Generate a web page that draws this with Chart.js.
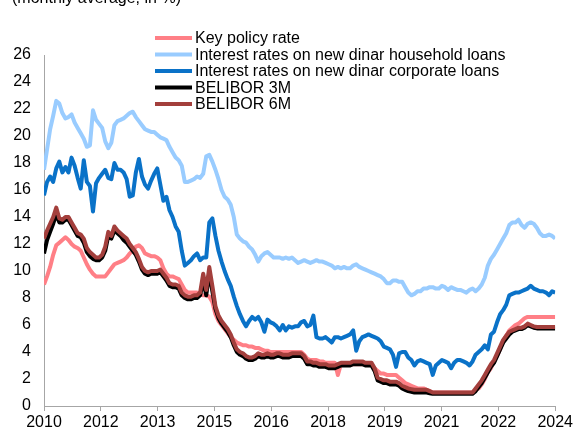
<!DOCTYPE html>
<html>
<head>
<meta charset="utf-8">
<script src="https://cdn.jsdelivr.net/npm/chart.js@4"></script>
<style>
  html, body { margin: 0; padding: 0; background: #fff; }
  #wrap { width: 575px; height: 430px; }
</style>
</head>
<body>
<div id="wrap"><canvas id="ratechart" width="575" height="430"></canvas></div>
<script>
// monthly averages, Jan 2010 - Dec 2023, in %
const subtitle = '(monthly average, in %)';
const tickLabels = ['2010', '2012', '2013', '2015', '2016', '2018', '2019', '2021', '2022', '2024'];
const yTicks = [0, 2, 4, 6, 8, 10, 12, 14, 16, 18, 20, 22, 24, 26];

const seriesNames = [
  'Key policy rate',
  'Interest rates on new dinar household loans',
  'Interest rates on new dinar corporate loans',
  'BELIBOR 3M',
  'BELIBOR 6M'
];
const seriesColors = ['#ff7f86', '#99ccff', '#0a72c8', '#000000', '#a33f3c'];

const keyRate = [
  9.0, 9.6, 10.3, 11.2, 11.9, 12.1, 12.3, 12.5, 12.3, 12.0, 11.8, 11.7,
  11.5, 11.0, 10.5, 10.1, 9.8, 9.6, 9.6, 9.6, 9.6, 9.9, 10.2, 10.5,
  10.6, 10.7, 10.8, 11.0, 11.3, 11.5, 11.8, 11.9, 11.7, 11.3, 11.2, 11.1,
  11.1, 11.0, 10.8, 10.2, 9.8, 9.6, 9.6, 9.5, 9.4, 9.0, 8.6, 8.4,
  8.4, 8.4, 8.4, 8.3, 8.2, 8.2, 8.1, 7.7, 6.8, 6.3, 6.0, 5.7,
  5.4, 5.1, 4.9, 4.7, 4.6, 4.5, 4.5, 4.4, 4.4, 4.3, 4.3, 4.2,
  4.1, 4.1, 4.0, 4.0, 4.0, 4.0, 4.0, 4.0, 4.0, 4.0, 4.0, 4.0,
  4.0, 3.8, 3.5, 3.4, 3.4, 3.4, 3.3, 3.3, 3.2, 3.2, 3.2, 3.2,
  2.3, 3.1, 3.1, 3.1, 3.1, 3.1, 3.1, 3.1, 3.1, 3.1, 3.1, 3.1,
  2.8, 2.6, 2.4, 2.4, 2.3, 2.3, 2.3, 2.3, 2.1, 1.9, 1.7, 1.6,
  1.5, 1.4, 1.3, 1.3, 1.3, 1.2, 1.1, 1.0, 1.0, 1.0, 1.0, 1.0,
  1.0, 1.0, 1.0, 1.0, 1.0, 1.0, 1.0, 1.0, 1.0, 1.2, 1.3, 1.6,
  2.0, 2.5, 2.8, 3.3, 3.7, 4.2, 4.8, 5.2, 5.6, 5.8, 6.0, 6.1,
  6.3, 6.5, 6.6, 6.6, 6.6, 6.6, 6.6, 6.6, 6.6, 6.6, 6.6, 6.6
];

const householdLoans = [
  17.5, 19.0, 20.5, 21.5, 22.6, 22.4, 21.7, 21.3, 21.4, 21.6, 21.0, 20.6,
  20.2, 19.8, 19.2, 19.3, 21.9, 21.2, 20.9, 20.6, 19.6, 19.1, 19.5, 20.8,
  21.1, 21.2, 21.3, 21.5, 21.7, 21.8, 21.4, 21.1, 20.8, 20.5, 20.4, 20.3,
  20.3, 20.1, 19.9, 19.8, 19.7, 19.2, 18.8, 18.4, 18.2, 17.8, 16.6, 16.6,
  16.7, 16.8, 17.0, 16.9, 17.2, 18.5, 18.6, 18.1, 17.5, 16.8, 16.0, 15.5,
  15.3, 14.9, 14.0, 12.7, 12.4, 12.2, 12.1, 11.8, 11.6, 11.2, 10.7, 11.1,
  11.3, 11.4, 11.2, 11.0, 11.0, 11.0, 10.9, 11.0, 10.9, 11.0, 10.8, 10.6,
  10.7, 10.8, 10.7, 10.6, 10.7, 10.8, 10.7, 10.7, 10.6, 10.5, 10.4, 10.2,
  10.3, 10.2, 10.3, 10.2, 10.2, 10.4, 10.5, 10.3, 10.2, 10.1, 10.0, 9.9,
  9.8, 9.7, 9.6, 9.4, 9.1, 9.1, 9.3, 9.3, 9.2, 9.2, 8.8, 8.4,
  8.2, 8.3, 8.5, 8.5, 8.7, 8.7, 8.8, 8.8, 8.7, 8.7, 8.9, 8.8,
  8.6, 8.8, 8.7, 8.6, 8.6, 8.5, 8.4, 8.6, 8.7, 8.5, 8.7, 9.0,
  9.5, 10.4, 10.9, 11.2, 11.6, 12.0, 12.4, 12.8, 13.4, 13.6, 13.6, 13.8,
  13.4, 13.2, 13.5, 13.6, 13.5, 13.2, 12.8, 12.6, 12.6, 12.7, 12.6, 12.4
];

const corporateLoans = [
  15.6, 16.6, 17.0, 16.6, 17.6, 18.1, 17.3, 17.7, 17.3, 18.4, 17.8, 16.9,
  16.1, 18.2, 16.6, 16.3, 14.4, 16.5, 16.9, 17.2, 17.5, 16.9, 16.8, 18.0,
  17.5, 17.5, 17.3, 16.8, 15.5, 15.6, 17.3, 18.3, 17.0, 16.4, 16.1, 16.7,
  17.2, 17.6, 16.4, 15.2, 15.5, 14.5, 14.0, 13.3, 12.9, 11.5, 10.4, 10.6,
  10.8, 11.1, 11.3, 10.8, 11.0, 11.0, 13.6, 13.9, 12.6, 11.5, 10.7, 10.0,
  9.4, 8.9, 8.1, 7.4, 6.8, 6.3, 5.9, 6.3, 6.6, 6.4, 6.6, 6.2,
  5.5, 6.4, 6.2, 6.1, 5.9, 5.6, 6.0, 5.6, 5.9, 5.8, 5.9, 5.9,
  6.2, 6.3, 5.9, 6.0, 6.7, 5.1, 5.0, 5.0, 5.1, 4.9, 4.7, 5.1,
  5.1, 5.0, 5.1, 5.2, 5.3, 5.6, 4.1, 4.8, 5.1, 5.2, 5.3, 5.2,
  5.1, 5.0, 4.8, 4.4, 4.3, 4.2, 3.8, 2.9, 3.9, 4.0, 4.0, 3.6,
  3.4, 3.0, 3.3, 3.4, 3.3, 3.2, 3.1, 2.3, 3.0, 3.2, 3.4, 3.3,
  3.2, 2.8, 3.2, 3.4, 3.4, 3.3, 3.2, 3.0, 3.3, 3.8, 4.0, 4.2,
  4.5, 4.2, 5.3, 5.5, 6.2, 6.8, 7.1, 7.5, 8.2, 8.3, 8.4, 8.4,
  8.5, 8.6, 8.7, 8.9, 8.7, 8.6, 8.5, 8.5, 8.4, 8.2, 8.5, 8.4
];

const belibor3m = [
  11.3, 12.3, 12.9, 13.5, 14.2, 13.6, 13.6, 13.8, 13.8, 13.4, 13.0, 12.6,
  12.5, 12.1, 11.4, 11.1, 10.9, 10.8, 10.8, 11.0, 11.5, 12.6, 12.4, 13.0,
  12.8, 12.6, 12.3, 12.1, 11.8, 11.5, 11.2, 10.7, 10.1, 9.8, 9.7, 9.8,
  9.8, 9.8, 9.9, 9.6, 9.3, 8.9, 8.8, 8.8, 8.7, 8.2, 8.0, 7.9,
  7.9, 8.0, 8.0, 8.2, 9.3, 8.2, 9.9, 8.5, 7.2, 6.5, 6.1, 5.8,
  5.5, 5.1, 4.5, 4.0, 3.8, 3.7, 3.5, 3.4, 3.4, 3.5, 3.7, 3.6,
  3.6, 3.7, 3.6, 3.6, 3.7, 3.7, 3.6, 3.6, 3.6, 3.7, 3.7, 3.7,
  3.7, 3.5, 3.1, 3.1, 3.0, 3.0, 2.9, 2.9, 2.9, 2.8, 2.8, 2.8,
  2.9, 3.0, 3.0, 3.0, 3.0, 3.1, 3.1, 3.1, 3.1, 3.0, 3.0, 3.0,
  2.6, 1.9, 1.8, 1.7, 1.7, 1.6, 1.6, 1.6, 1.5, 1.3, 1.2, 1.1,
  1.05, 1.0, 1.0, 1.0, 1.0, 1.0, 0.95, 0.9, 0.9, 0.9, 0.9, 0.9,
  0.9, 0.9, 0.9, 0.9, 0.9, 0.9, 0.9, 0.9, 0.9, 1.1, 1.4, 1.7,
  2.1, 2.5, 2.9, 3.2, 3.7, 4.2, 4.7, 5.0, 5.3, 5.5, 5.6, 5.7,
  5.7, 5.8, 6.0, 5.9, 5.8, 5.75, 5.75, 5.75, 5.75, 5.75, 5.75, 5.75
];

const belibor6m = [
  12.4, 13.0, 13.5, 14.0, 14.7, 13.9, 13.8, 14.0, 14.0, 13.6, 13.2, 12.8,
  12.7, 12.4, 11.7, 11.4, 11.2, 11.0, 11.0, 11.2, 11.8, 12.9, 12.6, 13.3,
  13.0, 12.8, 12.6, 12.4, 12.0, 11.7, 11.4, 10.9, 10.3, 10.0, 9.9, 10.0,
  10.0, 10.0, 10.1, 9.8, 9.5, 9.1, 9.0, 9.0, 8.9, 8.4, 8.2, 8.1,
  8.1, 8.2, 8.2, 8.4, 9.8, 8.6, 10.3, 8.9, 7.4, 6.7, 6.3, 6.0,
  5.7, 5.3, 4.7, 4.2, 4.0, 3.9, 3.7, 3.6, 3.6, 3.7, 3.9, 3.8,
  3.8, 3.9, 3.8, 3.8, 3.9, 3.9, 3.8, 3.8, 3.8, 3.9, 3.9, 3.9,
  3.9, 3.7, 3.3, 3.3, 3.2, 3.2, 3.1, 3.1, 3.1, 3.0, 3.0, 3.0,
  3.1, 3.2, 3.2, 3.2, 3.2, 3.3, 3.3, 3.3, 3.3, 3.2, 3.2, 3.2,
  2.8, 2.1, 2.0, 1.9, 1.9, 1.8, 1.8, 1.8, 1.7, 1.5, 1.4, 1.3,
  1.25, 1.2, 1.2, 1.2, 1.2, 1.2, 1.1, 1.0, 1.0, 1.0, 1.0, 1.0,
  1.0, 1.0, 1.0, 1.0, 1.0, 1.0, 1.0, 1.0, 1.0, 1.3, 1.6, 1.9,
  2.3, 2.7, 3.1, 3.4, 3.9, 4.4, 4.9, 5.2, 5.5, 5.6, 5.7, 5.8,
  5.8, 5.9, 6.1, 6.0, 5.9, 5.85, 5.85, 5.85, 5.85, 5.85, 5.85, 5.85
];

const seriesData = [keyRate, householdLoans, corporateLoans, belibor3m, belibor6m];
const lastIdx = keyRate.length - 1;
const fontFamily = '"Liberation Sans", Arial, sans-serif';
const axisGray = '#a6a6a6';

// legend drawn inside the plot, plus the cut-off subtitle at the top
const overlay = {
  id: 'overlay',
  afterDraw(chart) {
    const ctx = chart.ctx;
    ctx.save();
    ctx.font = '16px ' + fontFamily;
    ctx.fillStyle = '#000';
    ctx.textBaseline = 'alphabetic';
    ctx.fillText(subtitle, 12, 3);
    ctx.textBaseline = 'middle';
    ctx.lineCap = 'butt';
    seriesNames.forEach((name, i) => {
      const y = 38 + i * 16.5;
      ctx.strokeStyle = seriesColors[i];
      ctx.lineWidth = 4;
      ctx.beginPath();
      ctx.moveTo(155, y);
      ctx.lineTo(192, y);
      ctx.stroke();
      ctx.fillText(name, 195, y + 1);
    });
    ctx.restore();
  }
};

const ctx = document.getElementById('ratechart').getContext('2d');

const ratechart = new Chart(ctx, {
  type: 'line',
  data: {
    datasets: seriesData.map((vals, i) => ({
      label: seriesNames[i],
      data: vals.map((v, m) => ({ x: m, y: v })),
      borderColor: seriesColors[i],
      backgroundColor: seriesColors[i],
      borderWidth: 4,
      pointRadius: 0,
      tension: 0,
      borderJoinStyle: 'round',
      fill: false,
      order: seriesData.length - i
    }))
  },
  options: {
    responsive: false,
    devicePixelRatio: 1,
    animation: false,
    layout: { padding: { top: 55, right: 18, left: 0, bottom: 0 } },
    plugins: {
      legend: { display: false },
      tooltip: { enabled: false }
    },
    scales: {
      x: {
        type: 'linear',
        min: 0,
        max: lastIdx,
        afterBuildTicks: (scale) => {
          scale.ticks = tickLabels.map((t, i) => ({ value: i * lastIdx / (tickLabels.length - 1) }));
        },
        afterFit: (scale) => { scale.height = 24; },
        grid: { drawOnChartArea: false, drawTicks: true, tickLength: 5, color: axisGray },
        border: { color: axisGray, width: 1 },
        ticks: {
          autoSkip: false,
          maxRotation: 0,
          padding: 2,
          color: '#000',
          font: { family: fontFamily, size: 16 },
          callback: (v, i) => tickLabels[i]
        }
      },
      y: {
        min: 0,
        max: 26,
        afterBuildTicks: (scale) => {
          scale.ticks = yTicks.map(v => ({ value: v }));
        },
        afterFit: (scale) => { scale.width = 44; },
        grid: { drawOnChartArea: false, drawTicks: false },
        border: { color: axisGray, width: 1 },
        ticks: {
          padding: 13,
          color: '#000',
          font: { family: fontFamily, size: 16 }
        }
      }
    }
  },
  plugins: [overlay]
});
</script>
</body>
</html>
